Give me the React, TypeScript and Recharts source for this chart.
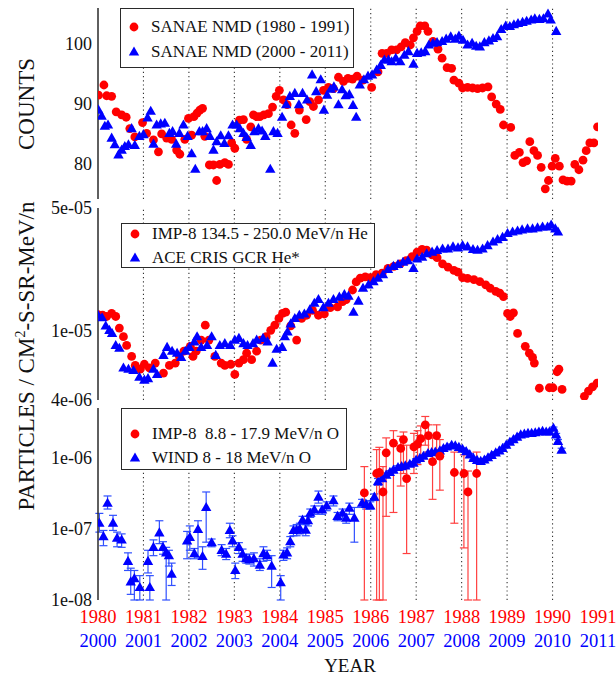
import { ScatterChart, Scatter, XAxis, YAxis, ReferenceLine, ErrorBar } from 'recharts'

// ─── Style constants ─────────────────────────────────────────────────────────

const FONT = '"Liberation Serif", "Times New Roman", serif'
const RED = '#ff0000'
const BLUE = '#0000ff'
const FRAME = '#2a2a2a'

// ─── Axis ticks / labels ─────────────────────────────────────────────────────

const redYears = [1980, 1981, 1982, 1983, 1984, 1985, 1986, 1987, 1988, 1989, 1990, 1991]
const blueYears = [2000, 2001, 2002, 2003, 2004, 2005, 2006, 2007, 2008, 2009, 2010, 2011]
const gridYears = [1981, 1982, 1983, 1984, 1985, 1986, 1987, 1988, 1989, 1990]
// quarter-year tick marks along top and bottom frame
const quarterTicks = Array.from({ length: 45 }, (_, i) => 1980 + i * 0.25)

const countsLabels = [80, 90, 100]
const countsMinor = [76, 78, 82, 84, 86, 88, 92, 94, 96, 98, 102, 104]
const heLabels = [4e-6, 1e-5, 5e-5]
const heMajor = [1e-5]
const heMinor = [5e-6, 6e-6, 7e-6, 8e-6, 9e-6, 2e-5, 3e-5, 4e-5]
const oLabels = [1e-8, 1e-7, 1e-6]
const oMajor = [1e-7, 1e-6]
const oMinor = [
  2e-8, 3e-8, 4e-8, 5e-8, 6e-8, 7e-8, 8e-8, 9e-8,
  2e-7, 3e-7, 4e-7, 5e-7, 6e-7, 7e-7, 8e-7, 9e-7,
  2e-6, 3e-6, 4e-6,
]

// ─── Data: panel 1, SANAE neutron monitor counts ─────────────────────────────

const sanae1980: [number, number][] = [
  [1980.01, 91.4], [1980.13, 93.1], [1980.19, 91.3], [1980.3, 91.2], [1980.4, 88.6], [1980.52, 88.1],
  [1980.62, 87.7], [1980.7, 85.8], [1980.81, 84.4], [1980.98, 86.8], [1981.07, 85.0], [1981.22, 83.9],
  [1981.33, 81.9], [1981.4, 84.9], [1981.51, 84.2], [1981.62, 84.0], [1981.73, 82.2], [1981.8, 81.5],
  [1981.91, 84.0], [1981.99, 87.5], [1982.06, 84.7], [1982.11, 87.8], [1982.18, 88.4], [1982.24, 88.9],
  [1982.3, 89.2], [1982.35, 84.5], [1982.45, 79.7], [1982.54, 79.7], [1982.61, 77.1], [1982.68, 79.8],
  [1982.79, 80.1], [1982.87, 79.8], [1982.94, 83.4], [1983.01, 82.5], [1983.11, 87.2], [1983.2, 87.3],
  [1983.27, 84.0], [1983.36, 86.1], [1983.42, 88.1], [1983.49, 87.8], [1983.56, 87.8], [1983.65, 88.1],
  [1983.75, 88.3], [1983.84, 89.4], [1983.92, 91.2], [1983.99, 92.2], [1984.08, 90.6], [1984.16, 89.8],
  [1984.25, 86.4], [1984.33, 85.0], [1984.43, 88.9], [1984.58, 87.3], [1984.66, 90.3], [1984.74, 89.5],
  [1984.85, 90.6], [1984.96, 92.2], [1985.07, 92.7], [1985.18, 92.5], [1985.29, 94.4], [1985.4, 93.7],
  [1985.5, 94.2], [1985.6, 94.1], [1985.7, 94.6], [1985.83, 93.9], [1986.02, 92.7], [1986.16, 95.3],
  [1986.25, 98.4], [1986.35, 98.4], [1986.46, 99.0], [1986.57, 99.0], [1986.67, 99.5], [1986.76, 100.2],
  [1986.87, 99.8], [1986.94, 101.0], [1987.02, 102.1], [1987.09, 103.0], [1987.19, 103.0], [1987.26, 102.1],
  [1987.37, 100.4], [1987.48, 99.1], [1987.57, 97.6], [1987.68, 96.0], [1987.78, 95.9], [1987.83, 93.9],
  [1987.94, 93.4], [1988.02, 92.6], [1988.13, 92.7], [1988.24, 92.6], [1988.35, 92.5], [1988.46, 92.6],
  [1988.58, 92.8], [1988.66, 91.1], [1988.76, 89.9], [1988.85, 89.0], [1988.92, 86.4], [1989.08, 86.0],
  [1989.17, 81.3], [1989.27, 81.8], [1989.35, 80.1], [1989.43, 80.4], [1989.5, 83.6], [1989.59, 82.1],
  [1989.67, 81.3], [1989.75, 79.3], [1989.84, 75.7], [1989.91, 77.1], [1989.99, 79.5], [1990.06, 80.8],
  [1990.15, 79.5], [1990.23, 77.2], [1990.32, 77.0], [1990.41, 77.0], [1990.49, 79.8], [1990.58, 78.9],
  [1990.67, 80.5], [1990.74, 82.1], [1990.82, 83.4], [1990.91, 83.4], [1990.99, 86.1],
]

const sanae2000: [number, number][] = [
  [2000.01, 88.9], [2000.08, 87.9], [2000.15, 86.2], [2000.22, 86.4], [2000.3, 84.2], [2000.37, 83.1],
  [2000.45, 81.4], [2000.52, 82.2], [2000.59, 82.8], [2000.67, 83.1], [2000.74, 85.8], [2000.81, 83.0],
  [2000.91, 84.5], [2001.0, 84.8], [2001.09, 87.6], [2001.16, 88.7], [2001.22, 83.2], [2001.29, 86.4],
  [2001.38, 86.6], [2001.47, 86.7], [2001.57, 85.0], [2001.64, 85.3], [2001.72, 83.2], [2001.79, 85.0],
  [2001.88, 86.4], [2001.97, 84.5], [2002.06, 81.6], [2002.14, 79.0], [2002.23, 85.3], [2002.3, 85.3],
  [2002.39, 85.8], [2002.46, 84.5], [2002.54, 82.2], [2002.61, 83.6], [2002.7, 84.6], [2002.78, 83.3],
  [2002.87, 84.6], [2002.96, 86.4], [2003.05, 86.4], [2003.12, 85.8], [2003.2, 85.0], [2003.27, 84.3],
  [2003.36, 83.0], [2003.44, 85.3], [2003.53, 85.8], [2003.61, 85.4], [2003.68, 84.5], [2003.79, 79.0],
  [2003.86, 85.3], [2003.95, 85.0], [2004.05, 87.7], [2004.14, 89.8], [2004.22, 91.2], [2004.33, 91.7],
  [2004.42, 89.8], [2004.5, 91.7], [2004.6, 90.6], [2004.71, 94.8], [2004.8, 92.0], [2004.9, 94.0],
  [2004.97, 88.9], [2005.04, 91.4], [2005.12, 92.4], [2005.19, 92.8], [2005.29, 89.8], [2005.37, 92.3],
  [2005.45, 91.3], [2005.53, 91.5], [2005.61, 89.7], [2005.68, 87.7], [2005.76, 93.1], [2005.85, 94.0],
  [2005.94, 94.6], [2006.03, 94.8], [2006.13, 95.6], [2006.22, 96.4], [2006.3, 97.3], [2006.39, 97.3],
  [2006.46, 97.0], [2006.55, 97.6], [2006.65, 97.0], [2006.74, 98.1], [2006.83, 98.7], [2006.94, 96.6],
  [2007.02, 98.4], [2007.11, 98.5], [2007.2, 98.7], [2007.28, 99.8], [2007.37, 100.1], [2007.46, 100.2],
  [2007.57, 100.4], [2007.66, 100.8], [2007.76, 101.2], [2007.86, 100.8], [2007.94, 101.3], [2008.03, 100.6],
  [2008.13, 99.8], [2008.23, 100.1], [2008.32, 99.6], [2008.4, 99.5], [2008.5, 100.2], [2008.6, 100.5],
  [2008.69, 100.9], [2008.78, 101.2], [2008.87, 102.4], [2008.97, 103.0], [2009.06, 102.9], [2009.15, 103.2],
  [2009.24, 103.4], [2009.34, 103.6], [2009.43, 103.8], [2009.53, 104.0], [2009.61, 104.2], [2009.71, 104.1],
  [2009.8, 104.2], [2009.9, 105.0], [2009.96, 104.0], [2010.08, 102.1],
]

// ─── Data: panel 2, helium fluxes ────────────────────────────────────────────

const imp8He: [number, number][] = [
  [1980.0, 1.23e-5], [1980.1, 1.22e-5], [1980.19, 1.2e-5], [1980.3, 1.25e-5], [1980.39, 1.2e-5],
  [1980.47, 1.03e-5], [1980.56, 9.2e-6], [1980.63, 8.2e-6], [1980.74, 7.1e-6], [1980.82, 6.3e-6],
  [1980.93, 6.0e-6], [1981.02, 6.4e-6], [1981.13, 6.1e-6], [1981.26, 6.5e-6], [1981.44, 5.7e-6],
  [1981.57, 6.3e-6], [1981.7, 6.5e-6], [1981.79, 7.1e-6], [1981.89, 7.6e-6], [1982.03, 8.1e-6],
  [1982.09, 7.1e-6], [1982.16, 7.6e-6], [1982.27, 8.8e-6], [1982.36, 1.07e-5], [1982.44, 8.8e-6],
  [1982.57, 7.1e-6], [1982.71, 6.5e-6], [1982.79, 6.3e-6], [1982.92, 6.4e-6], [1983.01, 5.6e-6],
  [1983.1, 6.5e-6], [1983.2, 6.8e-6], [1983.27, 7.4e-6], [1983.38, 6.8e-6], [1983.49, 7.6e-6],
  [1983.58, 8.8e-6], [1983.7, 9.2e-6], [1983.8, 1.0e-5], [1983.89, 1.07e-5], [1983.98, 1.17e-5],
  [1984.06, 1.25e-5], [1984.13, 1.27e-5], [1984.24, 1.06e-5], [1984.37, 8.8e-6], [1984.48, 1.17e-5],
  [1984.59, 1.22e-5], [1984.72, 1.3e-5], [1984.85, 1.22e-5], [1984.98, 1.24e-5], [1985.11, 1.35e-5],
  [1985.27, 1.36e-5], [1985.38, 1.46e-5], [1985.46, 1.5e-5], [1985.6, 1.7e-5], [1985.68, 1.89e-5],
  [1985.77, 1.99e-5], [1985.88, 2.02e-5], [1985.99, 2.0e-5], [1986.12, 2.08e-5], [1986.25, 2.12e-5],
  [1986.38, 2.26e-5], [1986.51, 2.32e-5], [1986.65, 2.4e-5], [1986.78, 2.5e-5], [1986.91, 2.64e-5],
  [1987.02, 2.8e-5], [1987.13, 2.9e-5], [1987.23, 2.87e-5], [1987.35, 2.7e-5], [1987.46, 2.6e-5],
  [1987.58, 2.4e-5], [1987.7, 2.3e-5], [1987.83, 2.2e-5], [1987.92, 2.15e-5], [1988.02, 2.0e-5],
  [1988.13, 1.98e-5], [1988.27, 1.95e-5], [1988.4, 1.9e-5], [1988.53, 1.82e-5], [1988.63, 1.74e-5],
  [1988.75, 1.67e-5], [1988.84, 1.63e-5], [1988.92, 1.56e-5], [1989.01, 1.25e-5], [1989.07, 1.2e-5],
  [1989.14, 1.26e-5], [1989.23, 9.6e-6], [1989.4, 8.1e-6], [1989.49, 7.4e-6], [1989.56, 7.0e-6],
  [1989.6, 6.5e-6], [1989.71, 4.67e-6], [1989.93, 4.7e-6], [1990.01, 4.7e-6], [1990.1, 5.8e-6],
  [1990.14, 6.0e-6], [1990.21, 4.6e-6], [1990.7, 4.2e-6], [1990.79, 4.5e-6], [1990.88, 4.75e-6],
  [1990.98, 5.0e-6],
]

const aceHe: [number, number][] = [
  [2000.0, 1.22e-5], [2000.09, 1.18e-5], [2000.17, 1.06e-5], [2000.25, 1.0e-5], [2000.31, 9.6e-6],
  [2000.39, 8.2e-6], [2000.47, 7.9e-6], [2000.56, 6.1e-6], [2000.67, 6.0e-6], [2000.78, 5.9e-6],
  [2000.91, 5.4e-6], [2001.02, 5.2e-6], [2001.1, 5.3e-6], [2001.22, 6.0e-6], [2001.3, 5.6e-6],
  [2001.44, 7.2e-6], [2001.52, 8.0e-6], [2001.63, 7.6e-6], [2001.74, 7.4e-6], [2001.83, 7.0e-6],
  [2001.92, 7.6e-6], [2002.01, 8.0e-6], [2002.12, 8.6e-6], [2002.18, 9.2e-6], [2002.27, 8.0e-6],
  [2002.4, 8.2e-6], [2002.5, 9.2e-6], [2002.59, 7.2e-6], [2002.68, 8.2e-6], [2002.79, 8.4e-6],
  [2002.91, 8.2e-6], [2003.01, 8.8e-6], [2003.1, 9.0e-6], [2003.2, 8.4e-6], [2003.29, 8.2e-6],
  [2003.41, 8.4e-6], [2003.49, 8.8e-6], [2003.63, 9.0e-6], [2003.73, 8.6e-6], [2003.84, 6.5e-6],
  [2003.93, 7.8e-6], [2004.05, 8.0e-6], [2004.11, 9.2e-6], [2004.17, 9.8e-6], [2004.24, 1.09e-5],
  [2004.33, 1.17e-5], [2004.43, 1.22e-5], [2004.54, 1.24e-5], [2004.66, 1.31e-5], [2004.76, 1.43e-5],
  [2004.85, 1.5e-5], [2004.96, 1.35e-5], [2005.07, 1.43e-5], [2005.18, 1.5e-5], [2005.31, 1.55e-5],
  [2005.42, 1.6e-5], [2005.51, 1.57e-5], [2005.62, 1.27e-5], [2005.73, 1.47e-5], [2005.83, 1.74e-5],
  [2005.95, 1.82e-5], [2006.06, 1.9e-5], [2006.16, 1.99e-5], [2006.27, 2.08e-5], [2006.38, 2.23e-5],
  [2006.5, 2.32e-5], [2006.6, 2.38e-5], [2006.71, 2.45e-5], [2006.82, 2.5e-5], [2006.94, 2.26e-5],
  [2007.02, 2.56e-5], [2007.13, 2.62e-5], [2007.23, 2.74e-5], [2007.35, 2.8e-5], [2007.46, 2.86e-5],
  [2007.58, 2.92e-5], [2007.7, 2.92e-5], [2007.81, 3.0e-5], [2007.92, 2.96e-5], [2008.02, 3.05e-5],
  [2008.13, 3.0e-5], [2008.25, 2.9e-5], [2008.35, 2.87e-5], [2008.46, 2.92e-5], [2008.57, 3.05e-5],
  [2008.69, 3.2e-5], [2008.79, 3.3e-5], [2008.9, 3.4e-5], [2009.01, 3.58e-5], [2009.12, 3.65e-5],
  [2009.23, 3.7e-5], [2009.33, 3.75e-5], [2009.45, 3.8e-5], [2009.56, 3.8e-5], [2009.67, 3.85e-5],
  [2009.78, 3.9e-5], [2009.89, 3.9e-5], [2009.97, 4.0e-5], [2010.06, 3.8e-5], [2010.12, 3.65e-5],
]

// ─── Data: panel 3, oxygen fluxes  [year, value, low, high] ──────────────────

const imp8O: [number, number, number, number][] = [
  [1985.86, 3.2e-7, 1e-8, 7.5e-7], [1986.13, 6.0e-7, 1e-8, 1.3e-6], [1986.19, 6.2e-7, 1e-8, 1.4e-6],
  [1986.27, 3.3e-7, 1e-8, 7.5e-7], [1986.34, 1.17e-6, 1.5e-7, 1.9e-6], [1986.5, 1.6e-6, 1.7e-7, 2.4e-6],
  [1986.66, 1.35e-6, 4e-7, 2e-6], [1986.72, 1.8e-6, 6e-7, 2.3e-6], [1986.79, 5.1e-7, 4.5e-8, 1.5e-6],
  [1986.95, 1.42e-6, 6e-7, 2.2e-6], [1987.03, 1.55e-6, 8e-7, 2.4e-6], [1987.1, 1.85e-6, 9e-7, 2.8e-6],
  [1987.2, 2.9e-6, 1.5e-6, 3.8e-6], [1987.27, 2.05e-6, 1.2e-6, 2.9e-6], [1987.36, 8.8e-7, 2.6e-7, 1.9e-6],
  [1987.45, 2.05e-6, 1.1e-6, 2.9e-6], [1987.52, 1.05e-6, 3.5e-7, 1.8e-6], [1987.84, 6.2e-7, 1.2e-7, 1.2e-6],
  [1988.05, 6.0e-7, 5.4e-8, 1.1e-6], [1988.14, 3.3e-7, 1e-8, 6.5e-7], [1988.33, 6.0e-7, 1e-8, 1.2e-6],
]

const windO: [number, number, number, number][] = [
  [2000.03, 1.2e-7, 9e-8, 1.65e-7], [2000.12, 7.8e-8, 5.8e-8, 9.5e-8], [2000.21, 2.3e-7, 1.9e-7, 2.9e-7],
  [2000.33, 1.2e-7, 9.5e-8, 1.55e-7], [2000.42, 7.4e-8, 5.6e-8, 9e-8], [2000.52, 7.0e-8, 5.5e-8, 8.5e-8],
  [2000.66, 3.5e-8, 2.6e-8, 4.6e-8], [2000.72, 1.8e-8, 1.2e-8, 2.8e-8], [2000.8, 2.0e-8, 1e-8, 2.6e-8],
  [2000.92, 1.5e-8, 1e-8, 2.2e-8], [2001.1, 3.5e-8, 2.4e-8, 5e-8], [2001.14, 1.5e-8, 1e-8, 2.2e-8],
  [2001.22, 5.5e-8, 4.2e-8, 7e-8], [2001.35, 8.8e-8, 6.2e-8, 1.3e-7], [2001.43, 5.5e-8, 4.4e-8, 6.6e-8],
  [2001.5, 4.6e-8, 1e-8, 5.5e-8], [2001.56, 4.2e-8, 3e-8, 5e-8], [2001.62, 2.3e-8, 1.6e-8, 3.3e-8],
  [2001.96, 6.8e-8, 3.8e-8, 9.2e-8], [2002.02, 7.6e-8, 5e-8, 1.1e-7], [2002.12, 4.5e-8, 3.8e-8, 5.3e-8],
  [2002.2, 9.8e-8, 4e-8, 1.3e-7], [2002.3, 4.1e-8, 2.7e-8, 5.6e-8], [2002.38, 2.0e-7, 6.5e-8, 3.3e-7],
  [2002.5, 6.4e-8, 5.6e-8, 7.2e-8], [2002.72, 5.0e-8, 4.2e-8, 6e-8], [2002.82, 4.4e-8, 3.7e-8, 5.3e-8],
  [2002.9, 9.5e-8, 7.5e-8, 1.2e-7], [2002.96, 6.8e-8, 5.6e-8, 8e-8], [2003.02, 2.6e-8, 2e-8, 3.3e-8],
  [2003.1, 5.5e-8, 4.5e-8, 6.4e-8], [2003.18, 4.4e-8, 3.5e-8, 5.2e-8], [2003.26, 3.8e-8, 3.3e-8, 4.4e-8],
  [2003.33, 3.7e-8, 3.2e-8, 4.4e-8], [2003.43, 3.8e-8, 3e-8, 4.6e-8], [2003.56, 3.1e-8, 2.6e-8, 3.8e-8],
  [2003.64, 4.5e-8, 3.5e-8, 5.6e-8], [2003.72, 4.2e-8, 3.6e-8, 5e-8], [2003.82, 3.0e-8, 1.5e-8, 4.2e-8],
  [2004.02, 1.75e-8, 1e-8, 2.2e-8], [2004.08, 4.3e-8, 3.6e-8, 5e-8], [2004.16, 4.6e-8, 3.8e-8, 5.4e-8],
  [2004.23, 6.6e-8, 5.6e-8, 7.8e-8], [2004.3, 9.5e-8, 8e-8, 1.1e-7], [2004.37, 9.6e-8, 8e-8, 1.15e-7],
  [2004.44, 1.0e-7, 8.5e-8, 1.2e-7], [2004.5, 1.33e-7, 1.15e-7, 1.5e-7], [2004.57, 9.6e-8, 8e-8, 1.15e-7],
  [2004.62, 1.3e-7, 1.1e-7, 1.5e-7], [2004.67, 1.66e-7, 1.45e-7, 1.9e-7], [2004.76, 1.85e-7, 1.6e-7, 2.1e-7],
  [2004.85, 2.8e-7, 2.3e-7, 3.4e-7], [2004.93, 1.85e-7, 1.6e-7, 2.1e-7], [2005.03, 2.1e-7, 1.8e-7, 2.4e-7],
  [2005.18, 2.5e-7, 2.1e-7, 2.9e-7], [2005.27, 1.5e-7, 1.3e-7, 1.7e-7], [2005.38, 1.66e-7, 1.4e-7, 1.9e-7],
  [2005.46, 1.42e-7, 1.2e-7, 1.6e-7], [2005.53, 1.95e-7, 1.6e-7, 2.3e-7], [2005.64, 1.42e-7, 6.5e-8, 2e-7],
  [2005.81, 2.3e-7, 2e-7, 2.6e-7], [2005.9, 2.2e-7, 1.9e-7, 2.5e-7], [2005.99, 2.1e-7, 1.9e-7, 2.4e-7],
  [2006.08, 2.8e-7, 2.5e-7, 3.1e-7], [2006.16, 4.6e-7, 4.1e-7, 5.1e-7],
  [2006.25, 5.1e-7, 4.7e-7, 5.5e-7], [2006.34, 5.7e-7, 5.3e-7, 6.1e-7], [2006.42, 6.2e-7, 5.8e-7, 6.6e-7],
  [2006.5, 6.7e-7, 6.3e-7, 7.1e-7], [2006.6, 7.3e-7, 6.9e-7, 7.7e-7], [2006.68, 7.5e-7, 7.1e-7, 7.9e-7],
  [2006.76, 7.7e-7, 7.3e-7, 8.1e-7], [2006.86, 8.1e-7, 7.7e-7, 8.5e-7], [2006.94, 8.4e-7, 8e-7, 8.8e-7],
  [2007.0, 9.3e-7, 8.9e-7, 9.7e-7], [2007.08, 9.8e-7, 9.4e-7, 1.02e-6], [2007.16, 1.05e-6, 1.0e-6, 1.1e-6],
  [2007.26, 1.15e-6, 1.1e-6, 1.2e-6], [2007.34, 1.18e-6, 1.13e-6, 1.23e-6], [2007.42, 1.2e-6, 1.15e-6, 1.25e-6],
  [2007.52, 1.25e-6, 1.2e-6, 1.3e-6], [2007.6, 1.35e-6, 1.3e-6, 1.4e-6], [2007.68, 1.42e-6, 1.36e-6, 1.48e-6],
  [2007.78, 1.5e-6, 1.44e-6, 1.56e-6], [2007.86, 1.47e-6, 1.41e-6, 1.53e-6], [2007.94, 1.4e-6, 1.34e-6, 1.46e-6],
  [2008.02, 1.32e-6, 1.27e-6, 1.37e-6], [2008.1, 1.22e-6, 1.17e-6, 1.27e-6], [2008.18, 1.1e-6, 1.05e-6, 1.15e-6],
  [2008.26, 9.8e-7, 9.4e-7, 1.02e-6], [2008.34, 9.2e-7, 8.8e-7, 9.6e-7], [2008.42, 8.9e-7, 8.5e-7, 9.3e-7],
  [2008.5, 9.3e-7, 8.9e-7, 9.7e-7], [2008.58, 1.0e-6, 9.6e-7, 1.04e-6], [2008.66, 1.08e-6, 1.04e-6, 1.12e-6],
  [2008.75, 1.17e-6, 1.12e-6, 1.22e-6], [2008.83, 1.25e-6, 1.2e-6, 1.3e-6], [2008.9, 1.35e-6, 1.3e-6, 1.4e-6],
  [2008.98, 1.5e-6, 1.44e-6, 1.56e-6], [2009.06, 1.65e-6, 1.59e-6, 1.71e-6], [2009.14, 1.8e-6, 1.73e-6, 1.87e-6],
  [2009.22, 1.95e-6, 1.88e-6, 2.02e-6], [2009.3, 2.1e-6, 2.02e-6, 2.18e-6], [2009.38, 2.15e-6, 2.07e-6, 2.23e-6],
  [2009.46, 2.2e-6, 2.12e-6, 2.28e-6], [2009.54, 2.2e-6, 2.12e-6, 2.28e-6], [2009.62, 2.25e-6, 2.17e-6, 2.33e-6],
  [2009.7, 2.3e-6, 2.22e-6, 2.38e-6], [2009.78, 2.35e-6, 2.27e-6, 2.43e-6], [2009.86, 2.3e-6, 2.22e-6, 2.38e-6],
  [2009.93, 2.3e-6, 2.22e-6, 2.38e-6], [2010.02, 2.6e-6, 2.5e-6, 2.7e-6], [2010.08, 2.1e-6, 2.0e-6, 2.2e-6],
  [2010.12, 1.7e-6, 1.6e-6, 1.8e-6], [2010.2, 1.28e-6, 1.2e-6, 1.36e-6],
]

// ─── Helpers ─────────────────────────────────────────────────────────────────

const toPts = (arr: [number, number][]) => arr.map(([x, y]) => ({ x, y }))
const toErrPts = (arr: [number, number, number, number][]) =>
  arr.map(([x, y, lo, hi]) => ({ x, y, err: [y - lo, hi - y] }))

function fmtExp(v: number): string {
  const [m, e] = v.toExponential(0).split('e')
  const n = Number(e)
  return `${m}e${n < 0 ? '-' : '+'}${String(Math.abs(n)).padStart(2, '0')}`
}

const RedDot = (p: any) =>
  p.cx == null || isNaN(p.cx) ? <g /> : <circle cx={p.cx} cy={p.cy} r={4.4} fill={RED} />

const BlueTri = (p: any) =>
  p.cx == null || isNaN(p.cx) ? (
    <g />
  ) : (
    <polygon
      points={`${p.cx},${p.cy - 5.5} ${p.cx - 5.2},${p.cy + 3.6} ${p.cx + 5.2},${p.cy + 3.6}`}
      fill={BLUE}
    />
  )

const tickFont = { fontSize: 18, fill: '#111', fontFamily: FONT }

// frame axes: quarter ticks top/bottom, labelled left axis, inner minor/major ticks both sides
function frameAxes(o: {
  domain: [number, number]
  log?: boolean
  labels: number[]
  major: number[]
  minor: number[]
  fmt: (v: number) => string
}) {
  const scale = o.log ? 'log' : 'linear'
  const common = { type: 'number' as const, domain: o.domain, scale: scale as any, allowDataOverflow: true, interval: 0 as const }
  return [
    <XAxis key="qt" xAxisId="qt" type="number" orientation="top" mirror height={0} domain={[1980, 1991]}
      ticks={quarterTicks} interval={0} tick={false} tickSize={6} allowDataOverflow stroke={FRAME} strokeWidth={1.5} />,
    <XAxis key="qb" xAxisId="qb" dataKey="x" type="number" orientation="bottom" mirror height={0} domain={[1980, 1991]}
      ticks={quarterTicks} interval={0} tick={false} tickSize={6} allowDataOverflow stroke={FRAME} strokeWidth={1.5} />,
    <YAxis key="main" yAxisId="main" dataKey="y" {...common} orientation="left" width={98} ticks={o.labels}
      tickFormatter={o.fmt} tickLine={false} tickSize={3} tickMargin={3} tick={tickFont} stroke={FRAME} strokeWidth={1.5} />,
    <YAxis key="lmin" yAxisId="lmin" {...common} orientation="left" mirror width={0} ticks={o.minor}
      tick={false} tickSize={6} axisLine={false} stroke={FRAME} strokeWidth={1.3} />,
    <YAxis key="lmaj" yAxisId="lmaj" {...common} orientation="left" mirror width={0} ticks={[...o.labels, ...o.major]}
      tick={false} tickSize={12} axisLine={false} stroke={FRAME} strokeWidth={1.3} />,
    <YAxis key="rmin" yAxisId="rmin" {...common} orientation="right" mirror width={0} ticks={o.minor}
      tick={false} tickSize={6} stroke={FRAME} strokeWidth={1.5} />,
    <YAxis key="rmaj" yAxisId="rmaj" {...common} orientation="right" mirror width={0} ticks={[...o.labels, ...o.major]}
      tick={false} tickSize={12} axisLine={false} stroke={FRAME} strokeWidth={1.3} />,
  ]
}

function gridLines(xAxisId: string) {
  return gridYears.map((yr) => (
    <ReferenceLine key={`g${yr}`} x={yr} xAxisId={xAxisId} yAxisId="main" stroke="#333"
      strokeWidth={1.1} strokeDasharray="1.2 3" />
  ))
}

// ─── Legend box ──────────────────────────────────────────────────────────────

function LegendBox(props: { left: number; top: number; width: number; height: number; rows: number[]; labels: string[] }) {
  const { left, top, width, height, rows, labels } = props
  return (
    <div style={{ position: 'absolute', left, top, width, height, boxSizing: 'border-box',
      border: `1.5px solid ${FRAME}`, background: '#fff' }}>
      {labels.map((lab, i) => (
        <div key={lab} style={{ position: 'absolute', left: 0, top: rows[i] - 11, height: 22, display: 'flex',
          alignItems: 'center', whiteSpace: 'pre', fontFamily: FONT, fontSize: 17, color: '#111' }}>
          <svg width={30} height={22} style={{ display: 'block' }}>
            {i === 0 ? (
              <circle cx={13} cy={11} r={4.4} fill={RED} />
            ) : (
              <polygon points="13,5.5 7.8,14.6 18.2,14.6" fill={BLUE} />
            )}
          </svg>
          <span>{lab}</span>
        </div>
      ))}
    </div>
  )
}

// ─── App ─────────────────────────────────────────────────────────────────────

export default function App() {
  const red1 = toPts(sanae1980)
  const blue1 = toPts(sanae2000)
  const red2 = toPts(imp8He)
  const blue2 = toPts(aceHe)
  const red3 = toErrPts(imp8O)
  const blue3 = toErrPts(windO)

  return (
    <div style={{ position: 'absolute', left: 0, top: 0, width: 616, height: 676, background: '#fff', fontFamily: FONT }}>
      {/* Panel 1: counts */}
      <div style={{ position: 'absolute', left: 0, top: 0 }}>
        <ScatterChart width={616} height={210} margin={{ top: 8, right: 18, bottom: 11, left: 0 }}>
          {frameAxes({ domain: [74, 106], labels: countsLabels, major: [], minor: countsMinor, fmt: (v) => String(v) })}
          <XAxis xAxisId="blueX" dataKey="x" type="number" hide domain={[2000, 2011]} allowDataOverflow />
          {gridLines('qb')}
          <Scatter data={red1} xAxisId="qb" yAxisId="main" shape={RedDot} isAnimationActive={false} />
          <Scatter data={blue1} xAxisId="blueX" yAxisId="main" shape={BlueTri} isAnimationActive={false} />
        </ScatterChart>
      </div>

      {/* Panel 2: helium */}
      <div style={{ position: 'absolute', left: 0, top: 190 }}>
        <ScatterChart width={616} height={220} margin={{ top: 18, right: 18, bottom: 10, left: 0 }}>
          {frameAxes({ domain: [4e-6, 5e-5], log: true, labels: heLabels, major: heMajor, minor: heMinor, fmt: fmtExp })}
          <XAxis xAxisId="blueX" dataKey="x" type="number" hide domain={[2000, 2011]} allowDataOverflow />
          {gridLines('qb')}
          <Scatter data={red2} xAxisId="qb" yAxisId="main" shape={RedDot} isAnimationActive={false} />
          <Scatter data={blue2} xAxisId="blueX" yAxisId="main" shape={BlueTri} isAnimationActive={false} />
        </ScatterChart>
      </div>

      {/* Panel 3: oxygen, with the two year axes */}
      <div style={{ position: 'absolute', left: 0, top: 390 }}>
        <ScatterChart width={616} height={286} margin={{ top: 18, right: 18, bottom: 28, left: 0 }}>
          {frameAxes({ domain: [1e-8, 5e-6], log: true, labels: oLabels, major: oMajor, minor: oMinor, fmt: fmtExp })}
          <XAxis xAxisId="x1red" dataKey="x" type="number" orientation="bottom" height={24} domain={[1980, 1991]}
            ticks={redYears} interval={0} tickLine={false} axisLine={false} tickSize={0} tickMargin={10}
            allowDataOverflow tick={{ fontSize: 18.5, fill: RED, fontFamily: FONT }} />
          <XAxis xAxisId="x2blue" dataKey="x" type="number" orientation="bottom" height={24} domain={[2000, 2011]}
            ticks={blueYears} interval={0} tickLine={false} axisLine={false} tickSize={0} tickMargin={10}
            allowDataOverflow tick={{ fontSize: 18.5, fill: BLUE, fontFamily: FONT }} />
          {gridLines('qb')}
          <Scatter data={blue3} xAxisId="x2blue" yAxisId="main" shape={BlueTri} isAnimationActive={false}>
            <ErrorBar dataKey="err" direction="y" width={4} stroke="#3050ff" strokeWidth={1.2} />
          </Scatter>
          <Scatter data={red3} xAxisId="x1red" yAxisId="main" shape={RedDot} isAnimationActive={false}>
            <ErrorBar dataKey="err" direction="y" width={4} stroke="#ff4040" strokeWidth={1.2} />
          </Scatter>
        </ScatterChart>
      </div>

      <LegendBox left={120} top={8} width={234} height={60} rows={[18, 43]}
        labels={['SANAE NMD (1980 - 1991)', 'SANAE NMD (2000 - 2011)']} />
      <LegendBox left={121} top={223} width={254} height={45} rows={[10, 34]}
        labels={['IMP-8 134.5 - 250.0 MeV/n He', 'ACE CRIS GCR He*']} />
      <LegendBox left={121} top={408} width={226} height={62} rows={[25, 49]}
        labels={['IMP-8  8.8 - 17.9 MeV/n O', 'WIND 8 - 18 MeV/n O']} />

      {/* axis titles */}
      <svg width={616} height={676} style={{ position: 'absolute', left: 0, top: 0, pointerEvents: 'none' }}>
        <text transform="translate(34,104) rotate(-90)" textAnchor="middle" fontSize={23} fontFamily={FONT} fill="#111">
          COUNTS
        </text>
        <text transform="translate(34,356) rotate(-90)" textAnchor="middle" fontSize={23} fontFamily={FONT} fill="#111">
          PARTICLES / CM<tspan dy={-9} fontSize={14}>2</tspan>
          <tspan dy={9}>-S-SR-MeV/n</tspan>
        </text>
        <text x={350} y={672} textAnchor="middle" fontSize={19} fontFamily={FONT} fill="#111">
          YEAR
        </text>
      </svg>
    </div>
  )
}
